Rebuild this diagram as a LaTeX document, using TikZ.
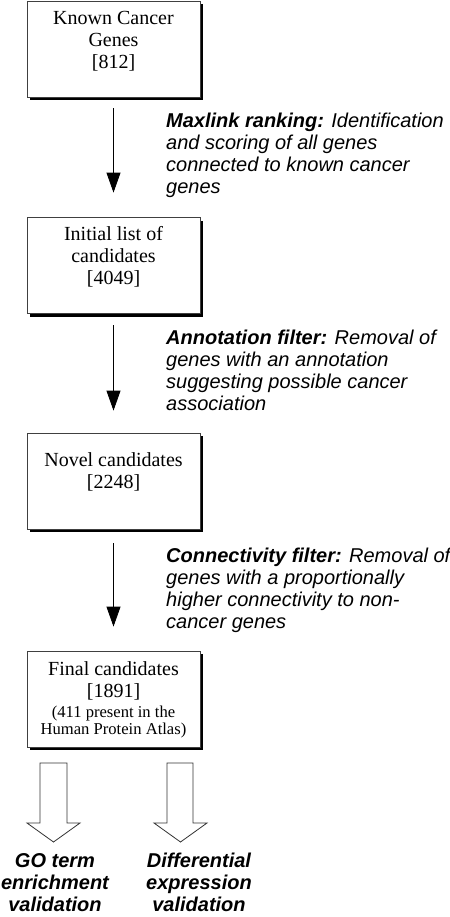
\documentclass[tikz,border=0pt]{standalone}
\usepackage{fontspec}
\setmainfont{Liberation Serif}
\newfontfamily\labfont{Liberation Sans}
\usetikzlibrary{arrows.meta,shadows}
\begin{document}
\begin{tikzpicture}[x=1bp,y=-1bp,
  box/.style={draw=black!75, line width=0.8bp, fill=white, minimum width=173bp,
    minimum height=96bp, inner sep=0pt,
    drop shadow={shadow xshift=3bp, shadow yshift=-3bp, fill=black, opacity=1}},
  boxtext/.style={anchor=base, inner sep=0pt, font=\fontsize{20bp}{22bp}\selectfont},
  smalltext/.style={anchor=base, inner sep=0pt, font=\fontsize{16.6bp}{17.5bp}\selectfont},
  steptext/.style={anchor=base west, inner sep=0pt, font=\labfont\itshape\fontsize{20bp}{22bp}\selectfont},
  outtext/.style={anchor=south, inner sep=0pt, align=center, text depth=0pt,
    font=\labfont\bfseries\itshape\fontsize{20bp}{22bp}\selectfont},
  flow/.style={draw=black, line width=0.8bp, -{Triangle[width=14bp,length=20bp]}},
  blockarrow/.style={draw=black!80, line width=0.8bp, fill=white, line join=miter}]
\useasboundingbox (0,0) rectangle (450,917);

% boxes
\node[box] (b1) at (113.5,49) {};
\node[box] (b2) at (113.5,265.5) {};
\node[box] (b3) at (113.5,481) {};
\node[box] (b4) at (113.5,699) {};

% box texts
\node[boxtext] (t1) at (113.5,24) {\begin{tabular}[t]{@{}c@{}}Known Cancer\\Genes\\{[812]}\end{tabular}};
\node[boxtext] (t2) at (113.5,240.5) {\begin{tabular}[t]{@{}c@{}}Initial list of\\candidates\\{[4049]}\end{tabular}};
\node[boxtext] (t3) at (113.5,466) {\begin{tabular}[t]{@{}c@{}}Novel candidates\\{[2248]}\end{tabular}};
\node[boxtext] (t4) at (113.5,675) {\begin{tabular}[t]{@{}c@{}}Final candidates\\{[1891]}\end{tabular}};
\node[smalltext] (t4b) at (113.5,717) {\begin{tabular}[t]{@{}c@{}}(411 present in the\\Human Protein Atlas)\end{tabular}};

% arrows
\draw[flow, shorten <=11bp, shorten >=24.5bp] (b1.south) -- (b2.north);
\draw[flow, shorten <=11.5bp, shorten >=22bp] (b2.south) -- (b3.north);
\draw[flow, shorten <=14bp, shorten >=24bp] (b3.south) -- (b4.north);

% step labels
\node[steptext] (s1) at (166,127) {\begin{tabular}[t]{@{}l@{}}{\bfseries Maxlink ranking:} Identification\\and scoring of all genes\\connected to known cancer\\genes\end{tabular}};
\node[steptext] (s2) at (166,344) {\begin{tabular}[t]{@{}l@{}}{\bfseries Annotation filter:} Removal of\\genes with an annotation\\suggesting possible cancer\\association\end{tabular}};
\node[steptext] (s3) at (166,562) {\begin{tabular}[t]{@{}l@{}}{\bfseries Connectivity filter:} Removal of\\genes with a proportionally\\higher connectivity to non-\\cancer genes\end{tabular}};

% block arrows
\draw[blockarrow] (40,763) -- (67,763) -- (67,823) -- (80,823) -- (53.5,842) -- (27,823) -- (40,823) -- cycle;
\draw[blockarrow] (167,763) -- (193,763) -- (193,823) -- (207,823) -- (180.5,842) -- (154,823) -- (167,823) -- cycle;

% outcome labels
\node[outtext] (o1) at (55,911.5) {GO term\\enrichment\\validation};
\node[outtext] (o2) at (199,911.5) {Differential\\expression\\validation};
\end{tikzpicture}
\end{document}
